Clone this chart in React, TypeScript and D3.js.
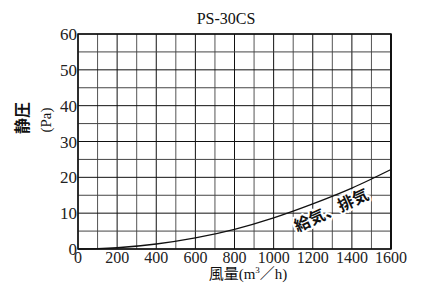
import React from "react";
import * as d3 from "d3";

const title = "PS-30CS";
const xTicks = [0, 200, 400, 600, 800, 1000, 1200, 1400, 1600];
const yTicks = [0, 10, 20, 30, 40, 50, 60];
const flow = [0, 100, 200, 400, 600, 800, 1000, 1200, 1400, 1600];
const pressure = [0, 0.1, 0.35, 1.4, 3.1, 5.5, 8.7, 12.6, 17.0, 22.2];
const curveLabel = "給気、排気";

const W = 427, H = 284;
const L = 78, R = 391, T = 34, B = 249;

export default function App() {
  const x = d3.scaleLinear().domain([0, 1600]).range([L, R]);
  const y = d3.scaleLinear().domain([0, 60]).range([B, T]);
  const vGrid = d3.range(0, 1601, 100);
  const hGrid = d3.range(0, 61, 5);
  const line = d3.line<number>().x((_, i) => x(flow[i])).y((d) => y(d)).curve(d3.curveMonotoneX);
  const serif = "Liberation Serif";
  const gothic = "Noto Sans CJK JP";
  const lx = x(1295), ly = y(10.9);
  return (
    <svg width={W} height={H} style={{ position: "absolute", left: 0, top: 0 }}>
      <rect width={W} height={H} fill="#fff" />
      <text x={226} y={24} textAnchor="middle" fontFamily={serif} fontSize={16} fill="#111">{title}</text>
      {vGrid.map((v) => (
        <line key={"v" + v} x1={x(v)} x2={x(v)} y1={T} y2={B} stroke={v % 200 === 0 ? "#111" : "#555"} strokeWidth={1} />
      ))}
      {hGrid.map((v) => (
        <line key={"h" + v} x1={L} x2={R} y1={y(v)} y2={y(v)} stroke={v % 10 === 0 ? "#111" : "#444"} strokeWidth={1} />
      ))}
      <rect x={L} y={T} width={R - L} height={B - T} fill="none" stroke="#111" strokeWidth={1.5} />
      <line x1={R} x2={R} y1={T} y2={B} stroke="#111" strokeWidth={2} />
      <path d={line(pressure) || ""} fill="none" stroke="#111" strokeWidth={1.3} />
      <g transform={`translate(${lx},${ly}) rotate(-25)`}>
        <text x={0} y={6} textAnchor="middle" fontFamily={gothic} fontWeight="bold" fontSize={16}
          fill="#111" stroke="#fff" strokeWidth={4} paintOrder="stroke">{curveLabel}</text>
      </g>
      {yTicks.map((v) => (
        <text key={"yt" + v} x={L - 1} y={y(v) + 6} textAnchor="end" fontFamily={serif} fontSize={17} fill="#222">{v}</text>
      ))}
      {xTicks.map((v) => (
        <text key={"xt" + v} x={x(v)} y={B + 14} textAnchor="middle" fontFamily={serif} fontSize={16} fill="#222">{v}</text>
      ))}
      <text transform={`translate(28,118) rotate(-90)`} textAnchor="middle" fontFamily={gothic} fontWeight="bold" fontSize={16} fill="#111">静圧</text>
      <text transform={`translate(51,120) rotate(-90)`} textAnchor="middle" fontFamily={serif} fontSize={15} fill="#111">(Pa)</text>
      <text x={248} y={279} textAnchor="middle" fill="#111">
        <tspan fontFamily={gothic} fontSize={15}>風量</tspan>
        <tspan fontFamily={serif} fontSize={15}>(m</tspan>
        <tspan fontFamily={serif} fontSize={9} dy={-6}>3</tspan>
        <tspan fontFamily={gothic} fontSize={15} dy={6}>／</tspan>
        <tspan fontFamily={serif} fontSize={15}>h)</tspan>
      </text>
    </svg>
  );
}
